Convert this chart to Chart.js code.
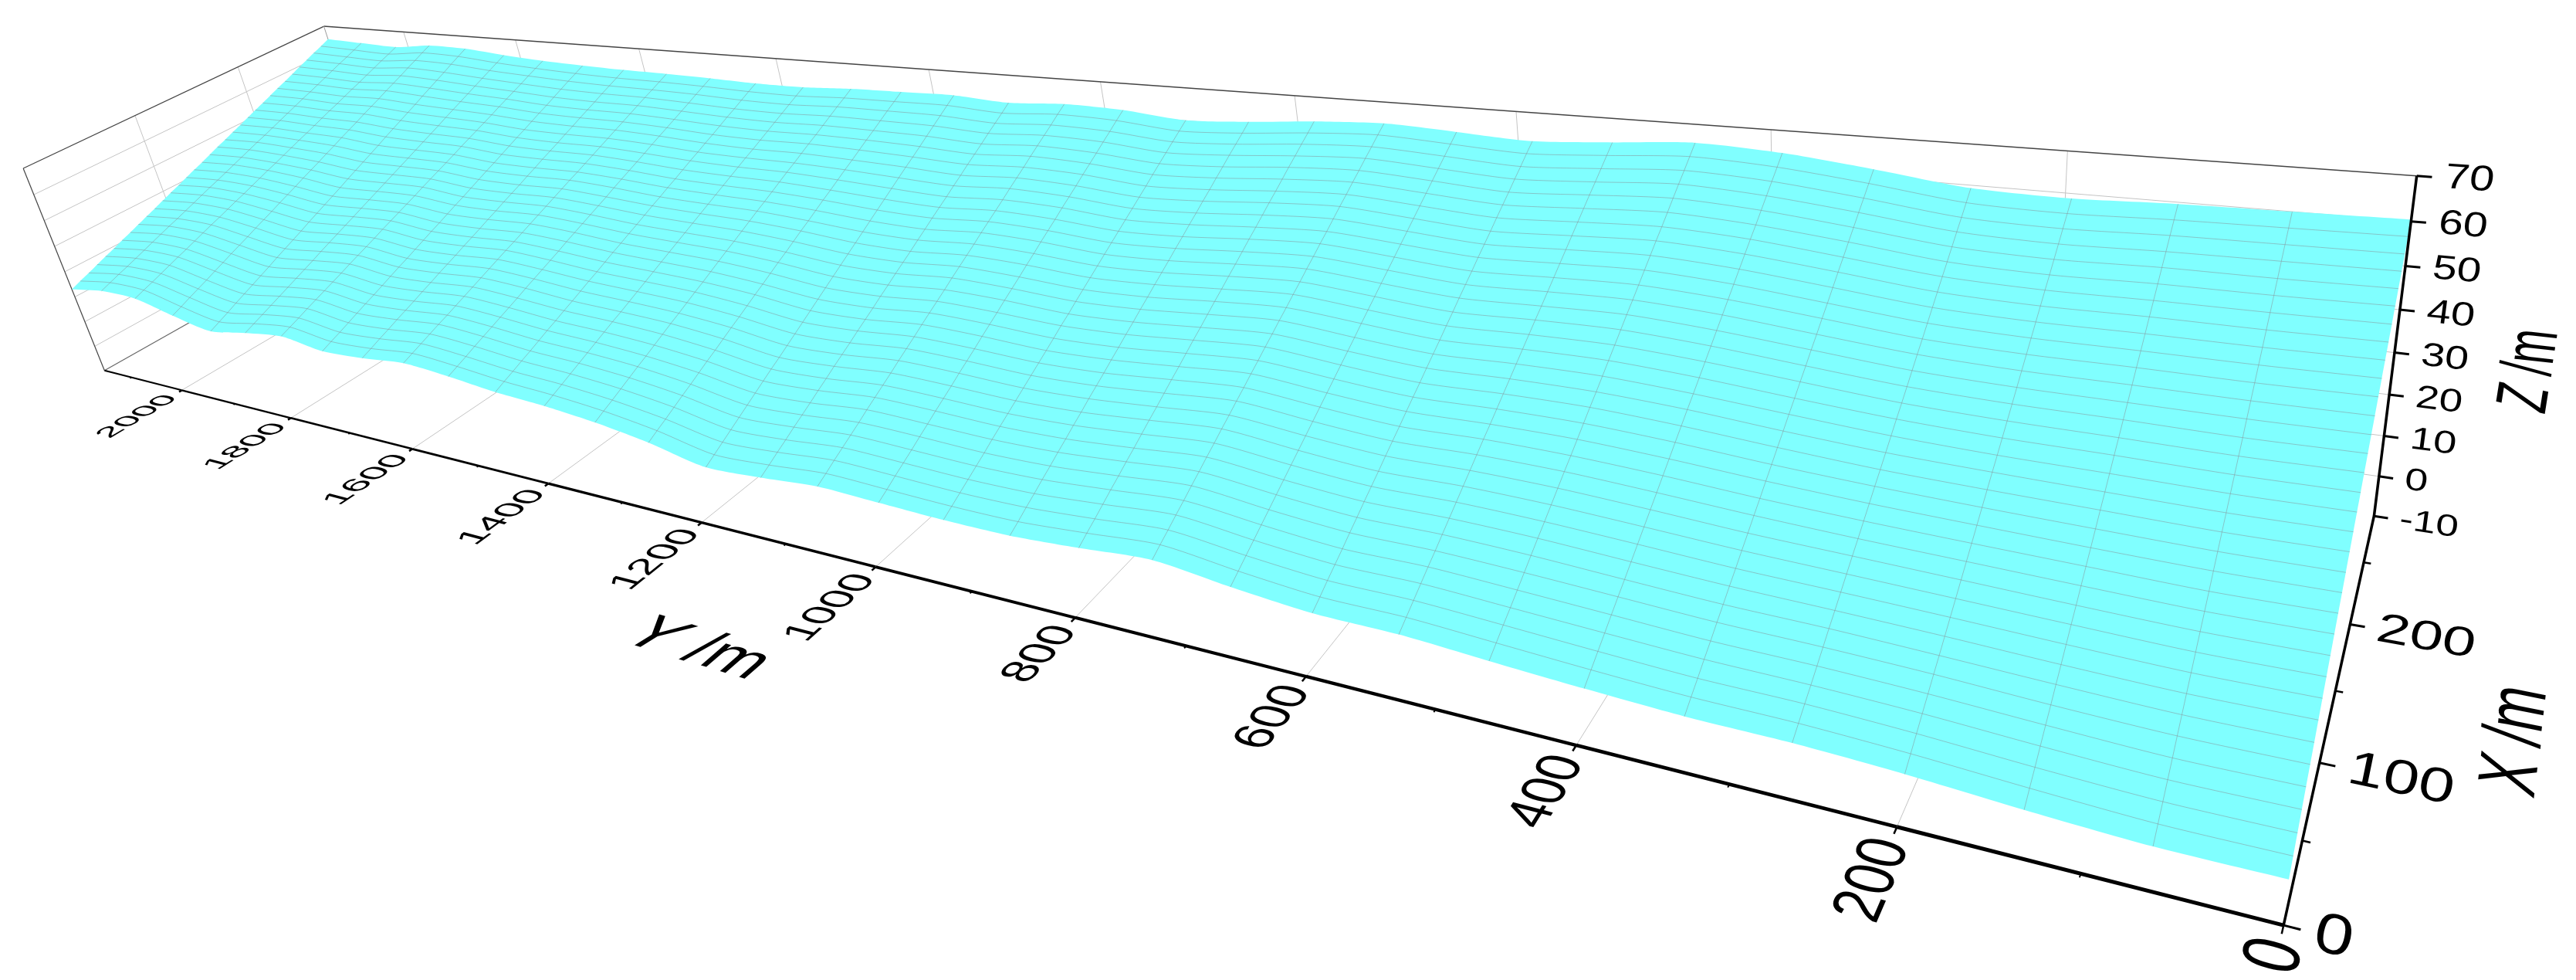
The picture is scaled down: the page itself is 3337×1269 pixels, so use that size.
<!DOCTYPE html>
<html>
<head>
<meta charset="utf-8">
<style>html,body{margin:0;background:#fff;overflow:hidden}</style>
<script src="https://cdn.jsdelivr.net/npm/chart.js@4/dist/chart.umd.js"></script>
</head>
<body>
<canvas id="chart" width="3337" height="1269"></canvas>
<script>
const xMax = 290, yMax = 2155, zMin = -10, zMax = 70
const xTicks = [0, 100, 200]
const xMinorTicks = [50, 150, 250]
const yTicks = [0, 200, 400, 600, 800, 1000, 1200, 1400, 1600, 1800, 2000]
const yMinorTicks = [100, 300, 500, 700, 900, 1100, 1300, 1500, 1700, 1900, 2100]
const zTicks = [-10, 0, 10, 20, 30, 40, 50, 60, 70]

const yCols = [0,65,131,196,261,327,392,457,522,588,653,718,784,849,914,980,1045,1110,1175,1241,1306,1371,1437,1502,1567,1633,1698,1763,1828,1894,1959,2024,2090,2155]
const xRows = [0,8.8,17.6,26.4,35.2,44,52.7,61.5,70.3,79.1,87.9,96.7,105.5,114.3,123,131.8,140.6,149.4,158.2,167,175.8,184.5,193.3,202.1,210.9,219.7,228.5,237.3,246.1,254.8,263.6,272.4,281.2,290]
const zGrid = [
  [0.2,0.2,1.4,3.0,4.0,4.2,5.2,6.5,7.9,8.2,10.2,12.7,11.3,10.2,10.3,11.0,11.7,10.3,9.5,13.4,16.2,18.0,19.1,21.0,22.3,20.8,20.1,22.4,20.6,18.2,21.2,24.9,25.1,23.0],
  [2.0,2.0,3.2,4.7,5.7,6.0,7.0,8.3,9.6,9.8,11.8,14.3,12.9,11.7,11.8,12.5,13.2,11.8,11.1,14.9,17.6,19.3,20.4,22.2,23.5,22.0,21.4,23.6,21.9,19.6,22.5,26.1,26.3,24.3],
  [3.8,3.8,4.9,6.4,7.4,7.7,8.8,10.1,11.3,11.5,13.4,15.8,14.4,13.3,13.3,14.1,14.8,13.4,12.7,16.3,18.9,20.6,21.6,23.4,24.7,23.3,22.6,24.8,23.2,21.0,23.9,27.2,27.5,25.5],
  [5.7,5.6,6.7,8.1,9.0,9.5,10.6,11.8,13.0,13.1,15.0,17.4,16.0,14.8,14.8,15.6,16.3,14.9,14.3,17.8,20.3,21.9,22.9,24.7,25.9,24.5,23.9,26.1,24.5,22.5,25.2,28.4,28.6,26.8],
  [7.5,7.4,8.5,9.8,10.7,11.2,12.4,13.6,14.7,14.7,16.6,18.9,17.6,16.4,16.3,17.1,17.8,16.5,15.9,19.3,21.7,23.2,24.1,25.9,27.1,25.8,25.2,27.3,25.8,23.9,26.5,29.6,29.8,28.1],
  [9.3,9.3,10.2,11.5,12.4,13.0,14.2,15.4,16.3,16.4,18.2,20.5,19.1,17.9,17.8,18.7,19.3,18.0,17.5,20.7,23.1,24.5,25.4,27.1,28.2,27.0,26.5,28.5,27.1,25.3,27.9,30.8,31.0,29.3],
  [11.1,11.1,12.0,13.1,14.1,14.7,15.9,17.2,18.0,18.0,19.8,22.0,20.7,19.5,19.4,20.2,20.9,19.5,19.1,22.2,24.4,25.8,26.7,28.3,29.4,28.2,27.7,29.7,28.4,26.7,29.2,31.9,32.2,30.6],
  [13.0,12.9,13.7,14.8,15.7,16.5,17.7,19.0,19.7,19.7,21.4,23.6,22.2,21.0,20.9,21.8,22.4,21.1,20.7,23.7,25.8,27.1,27.9,29.5,30.6,29.5,29.0,30.9,29.7,28.1,30.6,33.1,33.4,31.8],
  [14.8,14.7,15.5,16.5,17.4,18.2,19.5,20.7,21.4,21.3,23.0,25.1,23.8,22.6,22.4,23.3,23.9,22.6,22.3,25.1,27.2,28.4,29.2,30.7,31.8,30.7,30.3,32.2,31.0,29.6,31.9,34.3,34.6,33.1],
  [16.6,16.5,17.3,18.2,19.1,20.0,21.3,22.5,23.1,22.9,24.6,26.7,25.4,24.1,23.9,24.8,25.4,24.2,23.8,26.6,28.6,29.6,30.4,32.0,33.0,32.0,31.6,33.4,32.4,31.0,33.2,35.5,35.7,34.4],
  [18.4,18.3,19.0,19.9,20.8,21.7,23.1,24.3,24.8,24.6,26.2,28.2,26.9,25.7,25.4,26.4,27.0,25.7,25.4,28.1,29.9,30.9,31.7,33.2,34.2,33.2,32.8,34.6,33.7,32.4,34.6,36.6,36.9,35.6],
  [20.3,20.1,20.8,21.6,22.4,23.5,24.9,26.1,26.5,26.2,27.8,29.8,28.5,27.2,26.9,27.9,28.5,27.2,27.0,29.5,31.3,32.2,33.0,34.4,35.4,34.4,34.1,35.8,35.0,33.8,35.9,37.8,38.1,36.9],
  [22.1,21.9,22.6,23.3,24.1,25.2,26.7,27.8,28.2,27.8,29.4,31.3,30.1,28.7,28.4,29.4,30.0,28.8,28.6,31.0,32.7,33.5,34.2,35.6,36.6,35.7,35.4,37.1,36.3,35.3,37.2,39.0,39.3,38.2],
  [23.9,23.8,24.3,25.0,25.8,27.0,28.5,29.6,29.8,29.5,31.0,32.9,31.6,30.3,29.9,31.0,31.6,30.3,30.2,32.5,34.0,34.8,35.5,36.8,37.7,36.9,36.7,38.3,37.6,36.7,38.6,40.1,40.5,39.4],
  [25.7,25.6,26.1,26.7,27.5,28.7,30.3,31.4,31.5,31.1,32.6,34.4,33.2,31.8,31.4,32.5,33.1,31.8,31.8,33.9,35.4,36.1,36.8,38.1,38.9,38.1,37.9,39.5,38.9,38.1,39.9,41.3,41.6,40.7],
  [27.6,27.4,27.9,28.4,29.1,30.5,32.1,33.2,33.2,32.7,34.2,36.0,34.8,33.4,33.0,34.0,34.6,33.4,33.4,35.4,36.8,37.4,38.0,39.3,40.1,39.4,39.2,40.7,40.2,39.5,41.2,42.5,42.8,42.0],
  [29.4,29.2,29.6,30.1,30.8,32.2,33.9,34.9,34.9,34.4,35.8,37.5,36.3,34.9,34.4,35.6,36.1,34.9,35.0,36.9,38.2,38.7,39.3,40.5,41.3,40.6,40.5,41.9,41.5,40.9,42.6,43.7,44.0,43.2],
  [31.2,31.0,31.4,31.7,32.5,34.0,35.6,36.7,36.6,36.0,37.4,39.1,37.9,36.5,36.0,37.1,37.7,36.5,36.6,38.3,39.5,40.0,40.5,41.7,42.5,41.9,41.7,43.2,42.8,42.4,43.9,44.8,45.2,44.5],
  [33.0,32.8,33.2,33.4,34.2,35.7,37.4,38.5,38.3,37.6,39.1,40.6,39.5,38.0,37.5,38.6,39.2,38.0,38.2,39.8,40.9,41.3,41.8,42.9,43.7,43.1,43.0,44.4,44.1,43.8,45.2,46.0,46.4,45.8],
  [34.9,34.6,34.9,35.1,35.8,37.5,39.2,40.3,40.0,39.3,40.7,42.2,41.0,39.6,39.0,40.2,40.7,39.5,39.8,41.3,42.3,42.6,43.1,44.1,44.9,44.3,44.3,45.6,45.4,45.2,46.6,47.2,47.6,47.0],
  [36.7,36.4,36.7,36.8,37.5,39.2,41.0,42.1,41.7,40.9,42.3,43.7,42.6,41.1,40.5,41.7,42.2,41.1,41.4,42.7,43.7,43.9,44.3,45.4,46.1,45.6,45.6,46.8,46.7,46.6,47.9,48.4,48.7,48.3],
  [38.5,38.3,38.4,38.5,39.2,41.0,42.8,43.9,43.3,42.6,43.9,45.3,44.1,42.6,42.0,43.3,43.8,42.6,43.0,44.2,45.0,45.2,45.6,46.6,47.2,46.8,46.8,48.0,48.0,48.0,49.3,49.5,49.9,49.5],
  [40.3,40.1,40.2,40.2,40.9,42.7,44.6,45.6,45.0,44.2,45.5,46.8,45.7,44.2,43.5,44.8,45.3,44.2,44.6,45.7,46.4,46.5,46.8,47.8,48.4,48.1,48.1,49.3,49.3,49.5,50.6,50.7,51.1,50.8],
  [42.2,41.9,42.0,41.9,42.5,44.5,46.4,47.4,46.7,45.8,47.1,48.4,47.3,45.7,45.0,46.3,46.8,45.7,46.2,47.1,47.8,47.8,48.1,49.0,49.6,49.3,49.4,50.5,50.6,50.9,51.9,51.9,52.3,52.1],
  [44.0,43.7,43.7,43.6,44.2,46.2,48.2,49.2,48.4,47.5,48.7,49.9,48.8,47.3,46.5,47.9,48.3,47.2,47.8,48.6,49.2,49.1,49.4,50.2,50.8,50.5,50.7,51.7,51.9,52.3,53.3,53.1,53.5,53.3],
  [45.8,45.5,45.5,45.3,45.9,48.0,50.0,51.0,50.1,49.1,50.3,51.5,50.4,48.8,48.0,49.4,49.9,48.8,49.4,50.1,50.5,50.4,50.6,51.5,52.0,51.8,51.9,52.9,53.3,53.7,54.6,54.2,54.7,54.6],
  [47.6,47.3,47.3,47.0,47.6,49.8,51.8,52.8,51.8,50.7,51.9,53.1,52.0,50.4,49.5,50.9,51.4,50.3,51.0,51.5,51.9,51.6,51.9,52.7,53.2,53.0,53.2,54.1,54.6,55.1,55.9,55.4,55.8,55.9],
  [49.4,49.1,49.0,48.7,49.3,51.5,53.6,54.5,53.5,52.4,53.5,54.6,53.5,51.9,51.0,52.5,52.9,51.9,52.5,53.0,53.3,52.9,53.1,53.9,54.4,54.3,54.5,55.4,55.9,56.6,57.3,56.6,57.0,57.1],
  [51.3,50.9,50.8,50.3,50.9,53.3,55.3,56.3,55.2,54.0,55.1,56.2,55.1,53.5,52.6,54.0,54.5,53.4,54.1,54.5,54.6,54.2,54.4,55.1,55.6,55.5,55.7,56.6,57.2,58.0,58.6,57.7,58.2,58.4],
  [53.1,52.7,52.6,52.0,52.6,55.0,57.1,58.1,56.9,55.6,56.7,57.7,56.7,55.0,54.1,55.5,56.0,54.9,55.7,55.9,56.0,55.5,55.7,56.3,56.8,56.7,57.0,57.8,58.5,59.4,59.9,58.9,59.4,59.7],
  [54.9,54.6,54.3,53.7,54.3,56.8,58.9,59.9,58.5,57.3,58.3,59.3,58.2,56.6,55.6,57.1,57.5,56.5,57.3,57.4,57.4,56.8,56.9,57.5,58.0,58.0,58.3,59.0,59.8,60.8,61.3,60.1,60.6,60.9],
  [56.7,56.4,56.1,55.4,55.9,58.5,60.7,61.6,60.2,58.9,59.9,60.8,59.8,58.1,57.1,58.6,59.0,58.0,58.9,58.9,58.8,58.1,58.2,58.8,59.1,59.2,59.6,60.3,61.1,62.3,62.6,61.3,61.7,62.2],
  [58.6,58.2,57.8,57.1,57.6,60.3,62.5,63.4,61.9,60.6,61.5,62.4,61.3,59.6,58.6,60.2,60.6,59.5,60.5,60.3,60.1,59.4,59.5,60.0,60.3,60.4,60.8,61.5,62.4,63.7,64.0,62.4,62.9,63.4],
  [60.4,60.0,59.6,58.8,59.3,62.0,64.3,65.2,63.6,62.2,63.1,63.9,62.9,61.2,60.1,61.7,62.1,61.1,62.1,61.8,61.5,60.7,60.7,61.2,61.5,61.7,62.1,62.7,63.7,65.1,65.3,63.6,64.1,64.7],
]

// camera, fitted by hand to the box corners of the picture
const S = 3337 / 1568
function project(x, y, z) {
  const u = x / xMax
  const v = y / yMax
  const w = (z - zMin) / (zMax - zMin)
  const d = 1 + 0.2513 * u + 1.1085 * v - 0.0939 * w
  return {
    x: ((1390 + 418.2 * u - 1255.9 * v - 105.6 * w) / d) * S,
    y: ((563 - 170.1 * u - 87.6 * v - 269 * w) / d) * S,
  }
}

const layers = []
function addLine(points, color, width, extra) {
  layers.push(Object.assign({
    data: points.map((p) => project(p[0], p[1], p[2])),
    showLine: true,
    pointRadius: 0,
    borderColor: color,
    borderWidth: width,
    tension: 0,
    fill: false,
  }, extra))
}

// walls and floor
const wallGrey = '#c4c4c4'
yTicks.slice(1).forEach((y) => {
  addLine([[xMax, y, zMax], [xMax, y, zMin]], wallGrey, 1)
  addLine([[0, y, zMin], [xMax, y, zMin]], wallGrey, 1)
})
zTicks.slice(1, -1).forEach((z) => {
  addLine([[0, yMax, z], [xMax, yMax, z]], wallGrey, 1)
  addLine([[xMax, 0, z], [xMax, yMax, z]], wallGrey, 1)
})
xTicks.slice(1).forEach((x) => {
  addLine([[x, yMax, zMin], [x, yMax, zMax]], wallGrey, 1)
})

// box edges
addLine([[0, yMax, zMax], [xMax, yMax, zMax]], '#444', 1.2)
addLine([[xMax, yMax, zMax], [xMax, 0, zMax]], '#444', 1.5)
addLine([[0, yMax, zMax], [0, yMax, zMin]], '#444', 1.2)
addLine([[0, yMax, zMin], [xMax, yMax, zMin]], '#666', 1.2)
addLine([[xMax, yMax, zMax], [xMax, yMax, zMin]], '#999', 1)

// surface outline, closed with the library's shape fill
const outline = []
yCols.forEach((y, n) => outline.push([xRows[0], y, zGrid[0][n]]))
xRows.forEach((x, i) => outline.push([x, yCols[yCols.length - 1], zGrid[i][yCols.length - 1]]))
for (let n = yCols.length - 1; n >= 0; n--) outline.push([xRows[xRows.length - 1], yCols[n], zGrid[xRows.length - 1][n]])
xRows.slice().reverse().forEach((x, i) => outline.push([x, 0, zGrid[xRows.length - 1 - i][0]]))
addLine(outline, 'rgba(0,0,0,0)', 0, { fill: 'shape', backgroundColor: '#80ffff', tension: 0.25 })

// surface mesh
const meshGrey = 'rgba(135,140,145,0.5)'
xRows.forEach((x, i) => {
  if (i === 0 || i === xRows.length - 1) return
  addLine(yCols.map((y, n) => [x, y, zGrid[i][n]]), meshGrey, 1, { tension: 0.25 })
})
yCols.forEach((y, n) => {
  if (n === 0 || n === yCols.length - 1) return
  addLine(xRows.map((x, i) => [x, y, zGrid[i][n]]), meshGrey, 1)
})

// axes
for (let y = 0; y < 2000; y += 200) {
  addLine([[0, y, zMin], [0, y + 200, zMin]], '#000', 5 - (3 * y) / 2000)
}
addLine([[0, 2000, zMin], [0, yMax, zMin]], '#000', 2)
addLine([[0, 0, zMin], [xMax, 0, zMin]], '#000', 3.5)
addLine([[xMax, 0, zMin], [xMax, 0, zMax]], '#000', 3.5)
const tickLen = (y) => 4.8 * (1 - y / 4000)
yTicks.forEach((y) => addLine([[0, y, zMin], [-tickLen(y), y, zMin]], '#000', 2.5))
yMinorTicks.forEach((y) => addLine([[0, y, zMin], [-tickLen(y) / 2, y, zMin]], '#000', 2))
xTicks.forEach((x) => addLine([[x, 0, zMin], [x, -8, zMin]], '#000', 3))
xMinorTicks.forEach((x) => addLine([[x, 0, zMin], [x, -4, zMin]], '#000', 2.5))
zTicks.forEach((z) => addLine([[xMax, 0, z], [xMax, -8, z]], '#000', 3))

// text lying in the box planes: baseline and up vectors come from the camera
function placeText(ctx, chart, str, at, base, up, align, head) {
  const sx = chart.scales.x
  const sy = chart.scales.y
  const px = (p) => {
    const q = project(p[0], p[1], p[2])
    return [sx.getPixelForValue(q.x), sy.getPixelForValue(q.y)]
  }
  const p0 = px(at)
  const pb = px([at[0] + base[0], at[1] + base[1], at[2] + base[2]])
  const pu = px([at[0] + up[0], at[1] + up[1], at[2] + up[2]])
  ctx.save()
  ctx.transform(
    (pb[0] - p0[0]) / 100, (pb[1] - p0[1]) / 100,
    (p0[0] - pu[0]) / 100, (p0[1] - pu[1]) / 100,
    p0[0], p0[1])
  ctx.fillStyle = '#000'
  ctx.textBaseline = 'middle'
  if (head) {
    // axis titles: the letter is italic, the unit is not
    ctx.font = 'italic 100px "Liberation Sans"'
    const w1 = ctx.measureText(head).width
    ctx.font = '100px "Liberation Sans"'
    const w2 = ctx.measureText(str).width
    ctx.textAlign = 'left'
    ctx.fillText(str, w1 - (w1 + w2) / 2, 0)
    ctx.font = 'italic 100px "Liberation Sans"'
    ctx.fillText(head, -(w1 + w2) / 2, 0)
  } else {
    ctx.font = '100px "Liberation Sans"'
    ctx.textAlign = align
    ctx.fillText(str, 0, 0)
  }
  ctx.restore()
}

const planeLabels = {
  id: 'planeLabels',
  afterDraw(chart) {
    const ctx = chart.ctx
    yTicks.forEach((y) => placeText(ctx, chart, String(y), [-8.7, y, zMin], [32 - (3 * y) / 2000, 0, 0], [0, 38 + (10 * y) / 2000, 0], 'right'))
    xTicks.forEach((x) => placeText(ctx, chart, String(x), [x, -14.4, zMin], [0, -31, 0], [32, 0, 0], 'left'))
    zTicks.forEach((z) => placeText(ctx, chart, String(z), [xMax, -14.6, z], [0, -22.8, 0], [0, 0, 7.6], 'left'))
    placeText(ctx, chart, ' /m', [xMax, -73, 29.5], [0, 0, 9.2], [0, 38, 0], 'center', 'Z')
    placeText(ctx, chart, ' /m', [141, -92, zMin], [35.4, 0, 0], [0, 40, 0], 'center', 'X')
    placeText(ctx, chart, ' /m', [-100, 1071, zMin], [0, -68, 0], [40.6, 0, 0], 'center', 'Y')
  },
}

new Chart(document.getElementById('chart'), {
  type: 'scatter',
  data: { datasets: layers.reverse() },
  plugins: [planeLabels],
  options: {
    responsive: false,
    animation: false,
    devicePixelRatio: 1,
    layout: { padding: 0 },
    plugins: { legend: { display: false }, tooltip: { enabled: false } },
    elements: { line: { capBezierPoints: false } },
    scales: {
      x: { type: 'linear', min: 0, max: 3337, display: false },
      y: { type: 'linear', min: 0, max: 1269, reverse: true, display: false },
    },
  },
})
</script>
</body>
</html>
